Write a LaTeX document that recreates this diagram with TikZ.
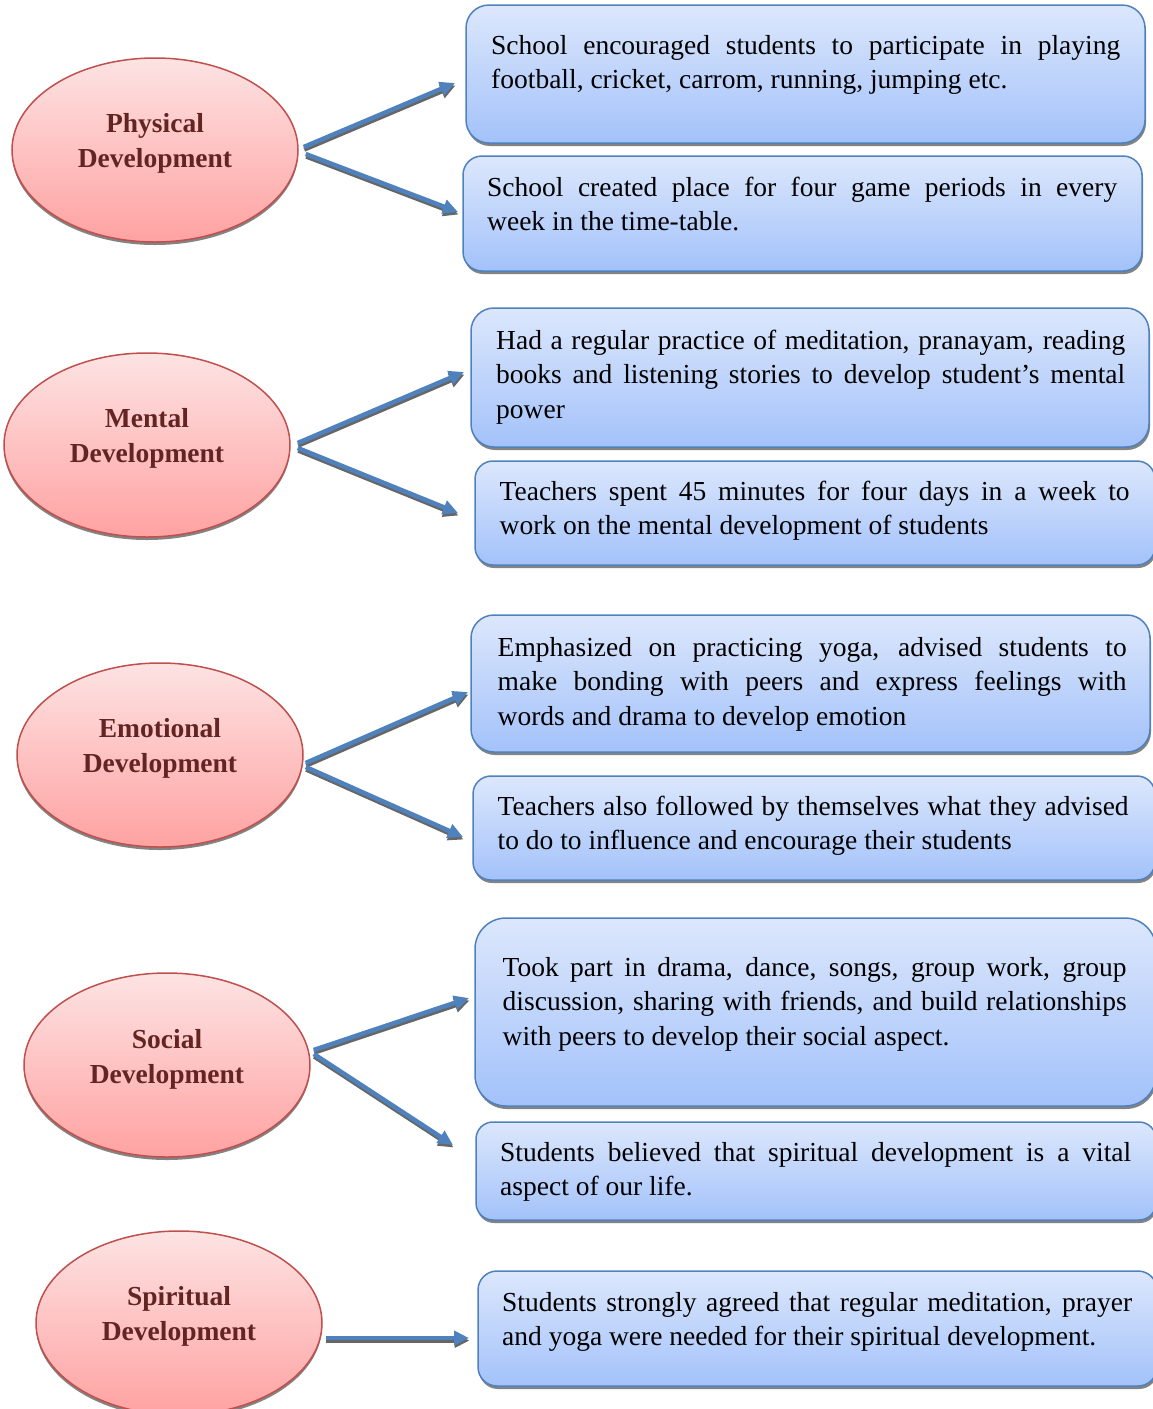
\documentclass[tikz,border=0pt]{standalone}
\usepackage{fontspec}
\setmainfont{Liberation Serif}
\usetikzlibrary{arrows.meta,shadows,calc,shapes.geometric}
\definecolor{boxtop}{HTML}{DCE7FC}
\definecolor{boxbot}{HTML}{A3C2FA}
\definecolor{boxline}{HTML}{4F81BD}
\definecolor{elltop}{HTML}{FDE3E3}
\definecolor{ellbot}{HTML}{FFA2A2}
\definecolor{ellline}{HTML}{C0504D}
\definecolor{elltext}{HTML}{632523}
\definecolor{arrowblue}{HTML}{4F81BD}
\newcommand{\boxfont}{\fontsize{27.5}{34.5}\selectfont\tolerance=10000\relax\hyphenpenalty=10000\relax}
\begin{document}
\begin{tikzpicture}[x=1pt,y=-1pt,
  devel/.style={ellipse, draw=ellline, line width=1.5pt, top color=elltop, bottom color=ellbot,
    minimum width=286pt, minimum height=184pt, inner sep=0pt,
    drop shadow={shadow xshift=0pt,shadow yshift=-3pt,fill=black!75,opacity=0.65}},
  develtext/.style={font=\bfseries\fontsize{27.5}{35}\selectfont, text=elltext, align=center, inner sep=0pt},
  infobox/.style={draw=boxline, line width=1.5pt, top color=boxtop, bottom color=boxbot, inner sep=0pt,
    drop shadow={shadow xshift=1pt,shadow yshift=-3pt,fill=black!75,opacity=0.65}},
  infotext/.style={anchor=north west, inner sep=0pt, align=justify, font=\boxfont},
  devarrow/.style={draw=arrowblue, line width=4.5pt, -{Triangle[length=15pt,width=14pt]}},
  arrshadow/.style={draw=black!60, line width=4.5pt, -{Triangle[length=15pt,width=14pt]}}
]
\useasboundingbox (0,0) rectangle (1153,1409);

% ellipses
\node[devel] (phys) at (155,150) {};
\node[devel] (ment) at (147,445) {};
\node[devel] (emot) at (160,755) {};
\node[devel] (soc) at (167,1065) {};
\node[devel] (spir) at (179,1323) {};
\node[develtext] (physT) at (155,143) {Physical\\Development};
\node[develtext] (mentT) at (147,438) {Mental\\Development};
\node[develtext] (emotT) at (160,748) {Emotional\\Development};
\node[develtext] (socT) at (167,1059) {Social\\Development};
\node[develtext] (spirT) at (179,1316) {Spiritual\\Development};

% boxes
\node[infobox, minimum width=679pt, minimum height=138pt, rounded corners=23pt] (b1) at (805.5,74) {};
\node[infobox, minimum width=679pt, minimum height=115pt, rounded corners=19pt] (b2) at (802.5,213.5) {};
\node[infobox, minimum width=678pt, minimum height=139pt, rounded corners=23pt] (b3) at (810,377.5) {};
\node[infobox, minimum width=680pt, minimum height=104pt, rounded corners=18pt] (b4) at (815,513) {};
\node[infobox, minimum width=679pt, minimum height=137pt, rounded corners=23pt] (b5) at (810.5,683.5) {};
\node[infobox, minimum width=682pt, minimum height=104pt, rounded corners=18pt] (b6) at (814,828) {};
\node[infobox, minimum width=681pt, minimum height=188pt, rounded corners=31pt] (b7) at (815.5,1012) {};
\node[infobox, minimum width=680pt, minimum height=98pt, rounded corners=17pt] (b8) at (816,1171) {};
\node[infobox, minimum width=679pt, minimum height=115pt, rounded corners=19pt] (b9) at (817.5,1328.5) {};

% texts
\node[infotext, text width=629pt] (t1) at (491,29.85) {\strut School encouraged students to participate in playing\linebreak football, cricket, carrom, running, jumping etc.};
\node[infotext, text width=630pt] (t2) at (487,171.85) {\strut School created place for four game periods in every\linebreak week in the time-table.};
\node[infotext, text width=629pt] (t3) at (496,324.85) {\strut Had a regular practice of meditation, pranayam, reading\linebreak books and listening stories to develop student’s mental\linebreak power};
\node[infotext, text width=630pt] (t4) at (499.5,475.85) {\strut Teachers spent 45 minutes for four days in a week to\linebreak work on the mental development of students};
\node[infotext, text width=629pt] (t5) at (497.5,631.85) {\strut Emphasized on practicing yoga, advised students to\linebreak make bonding with peers and express feelings with\linebreak words and drama to develop emotion};
\node[infotext, text width=631pt] (t6) at (497.5,790.85) {\strut Teachers also followed by themselves what they advised\linebreak to do to influence and encourage their students};
\node[infotext, text width=624pt] (t7) at (502.5,951.85) {\strut Took part in drama, dance, songs, group work, group\linebreak discussion, sharing with friends, and build relationships\linebreak with peers to develop their social aspect.};
\node[infotext, text width=631pt] (t8) at (500,1136.85) {\strut Students believed that spiritual development is a vital\linebreak aspect of our life.};
\node[infotext, text width=630pt] (t9) at (502,1286.85) {\strut Students strongly agreed that regular meditation, prayer\linebreak and yoga were needed for their spiritual development.};

% arrow end points
\coordinate (e1) at (455,83);
\coordinate (e2) at (458,212);
\coordinate (e3) at (464,372);
\coordinate (e4) at (458,513);
\coordinate (e5) at (468,692);
\coordinate (e6) at (463,837);
\coordinate (e7) at (469,998);
\coordinate (e8) at (453,1145);
\coordinate (e9) at (469,1338);

% arrow shadows
\begin{scope}[transform canvas={shift={(0.5,2.5)}}]
\draw[arrshadow] ($(phys.east)+(5,-3)$) -- (e1);
\draw[arrshadow] ($(phys.east)+(7,4)$) -- (e2);
\draw[arrshadow] ($(ment.east)+(7,-2)$) -- (e3);
\draw[arrshadow] ($(ment.east)+(7,3)$) -- (e4);
\draw[arrshadow] ($(emot.east)+(2,8)$) -- (e5);
\draw[arrshadow] ($(emot.east)+(2,12)$) -- (e6);
\draw[arrshadow] ($(soc.east)+(3,-15)$) -- (e7);
\draw[arrshadow] ($(soc.east)+(3,-11)$) -- (e8);
\draw[arrshadow] ($(spir.east)+(3,15)$) -- (e9);
\end{scope}
% arrows
\draw[devarrow] ($(phys.east)+(5,-3)$) -- (e1);
\draw[devarrow] ($(phys.east)+(7,4)$) -- (e2);
\draw[devarrow] ($(ment.east)+(7,-2)$) -- (e3);
\draw[devarrow] ($(ment.east)+(7,3)$) -- (e4);
\draw[devarrow] ($(emot.east)+(2,8)$) -- (e5);
\draw[devarrow] ($(emot.east)+(2,12)$) -- (e6);
\draw[devarrow] ($(soc.east)+(3,-15)$) -- (e7);
\draw[devarrow] ($(soc.east)+(3,-11)$) -- (e8);
\draw[devarrow] ($(spir.east)+(3,15)$) -- (e9);
\end{tikzpicture}
\end{document}
